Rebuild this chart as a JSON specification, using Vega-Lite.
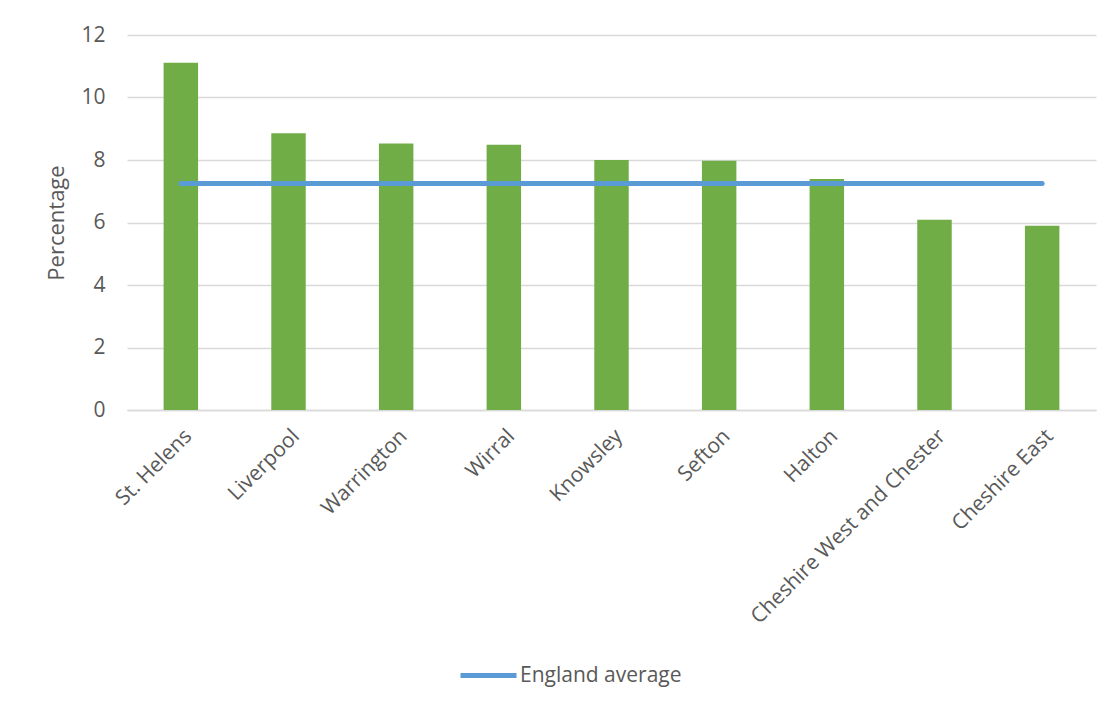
{
  "$schema": "https://vega.github.io/schema/vega-lite/v6.json",
  "width": 969,
  "height": 375,
  "autosize": {"type": "none"},
  "padding": {"left": 127, "top": 35, "right": 20, "bottom": 301},
  "background": "white",
  "config": {
    "font": "Open Sans",
    "view": {"stroke": null},
    "axis": {
      "labelFont": "Open Sans",
      "titleFont": "Open Sans",
      "labelColor": "#595959",
      "titleColor": "#595959",
      "labelFontSize": 21,
      "titleFontSize": 22,
      "titleFontWeight": "normal",
      "gridColor": "#D9D9D9",
      "gridWidth": 1.3,
      "ticks": false,
      "domain": false,
      "labelLimit": 0
    },
    "legend": {"labelFont": "Open Sans", "labelFontSize": 21, "labelColor": "#595959", "labelLimit": 0}
  },
  "data": {
    "values": [
      {"area": "St. Helens", "value": 11.11, "england": 7.25},
      {"area": "Liverpool", "value": 8.86, "england": 7.25},
      {"area": "Warrington", "value": 8.53, "england": 7.25},
      {"area": "Wirral", "value": 8.49, "england": 7.25},
      {"area": "Knowsley", "value": 8.0, "england": 7.25},
      {"area": "Sefton", "value": 7.98, "england": 7.25},
      {"area": "Halton", "value": 7.39, "england": 7.25},
      {"area": "Cheshire West and Chester", "value": 6.09, "england": 7.25},
      {"area": "Cheshire East", "value": 5.9, "england": 7.25}
    ]
  },
  "layer": [
    {
      "mark": {"type": "bar", "color": "#70AD47"},
      "encoding": {
        "x": {
          "field": "area", "type": "nominal", "sort": null,
          "scale": {"paddingInner": 0.68, "paddingOuter": 0.34},
          "axis": {"title": null, "labelAngle": -45, "grid": false, "domain": true, "domainColor": "#D9D9D9", "domainWidth": 1.3, "labelPadding": 15}
        },
        "y": {
          "field": "value", "type": "quantitative",
          "scale": {"domain": [0, 12]},
          "axis": {"title": "Percentage", "values": [0, 2, 4, 6, 8, 10, 12], "labelPadding": 22, "titlePadding": 12}
        }
      }
    },
    {
      "mark": {"type": "line", "strokeWidth": 5, "strokeCap": "round"},
      "encoding": {
        "x": {"field": "area", "type": "nominal", "sort": null, "bandPosition": 0.5},
        "y": {"field": "england", "type": "quantitative"},
        "color": {
          "datum": "England average",
          "type": "nominal",
          "scale": {"range": ["#5B9BD5"]},
          "legend": {
            "title": null,
            "orient": "none",
            "legendX": 331,
            "legendY": 610,
            "symbolType": "stroke",
            "symbolSize": 3136,
            "symbolStrokeWidth": 5,
            "labelOffset": 1
          }
        }
      }
    }
  ]
}
